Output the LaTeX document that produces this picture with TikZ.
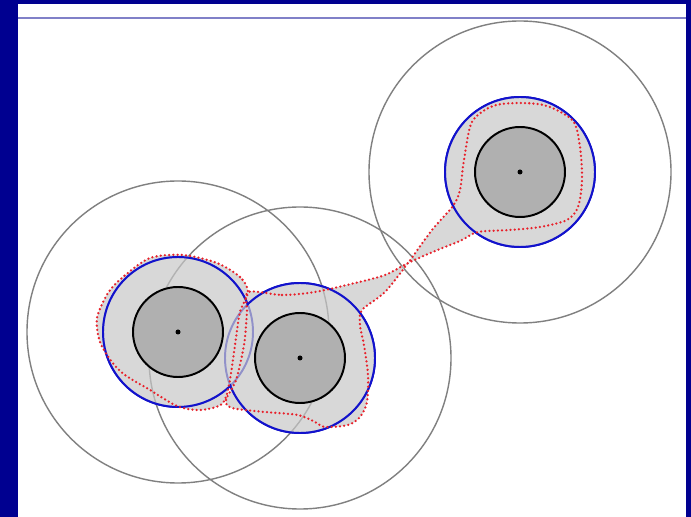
\documentclass[tikz,border=0pt]{standalone}
\usepackage{xcolor}
\definecolor{SlideNavy}{HTML}{000090}
\definecolor{RuleBlue}{HTML}{8080C8}
\definecolor{ShellBlue}{HTML}{1212CC}
\definecolor{HullRed}{HTML}{E8202A}
\definecolor{AreaGray}{HTML}{C8C8C8}
\definecolor{CoreGray}{HTML}{B0B0B0}

\begin{document}
\begin{tikzpicture}[x=0.025cm,y=-0.025cm,
    reach/.style={draw=black!50,line width=1pt},
    shell/.style={draw=ShellBlue,line width=1.4pt},
    core/.style={draw=black,line width=1.4pt,fill=CoreGray},
    hull/.style={draw=HullRed,line width=1.8pt,line cap=round,
      dash pattern=on 0pt off 3pt},
    area/.style={fill=AreaGray}
  ]
  \useasboundingbox (0,0) rectangle (691,517);
  \fill[SlideNavy] (0,0) rectangle (691,517);
  \fill[white] (18,4) rectangle (686,517);
  \draw[RuleBlue,line width=0.8pt] (18,18) -- (686,18);

  \coordinate (p1) at (178,332);
  \coordinate (p2) at (300,358);
  \coordinate (p3) at (520,172);

  \path[save path=\hullA] plot[smooth cycle] coordinates {
    (248,292) (240,277) (217,263) (183,255) (150,258) (123,277) (108,293)
    (97,318) (100,342) (112,362) (125,375) (150,390) (177,406) (200,410)
    (222,404) (229,385) (235,345) (240,312)};
  \path[save path=\hullB] plot[smooth cycle] coordinates {
    (248,292) (282,295) (315,292) (355,283) (385,275) (408,263) (435,251)
    (460,241) (478,232) (510,230) (540,227) (567,220) (578,207) (582,180)
    (580,147) (573,121) (547,106) (520,103) (493,106) (472,122) (464,160)
    (460,190) (453,206) (432,230) (408,263) (385,292) (362,310) (360,325)
    (364,345) (368,375) (367,402) (360,417) (348,425) (325,427) (315,422)
    (298,415) (265,412) (232,408) (226,400) (236,380) (244,345) (247,312)};

  \foreach \p in {p1,p2,p3} \draw[reach] (\p) circle (151);
  \foreach \p in {p1,p2,p3} \draw[shell] (\p) circle (75);
  \begin{scope}[transparency group,opacity=0.7]
    \foreach \p in {p1,p2,p3} \fill[area] (\p) circle (75);
    \fill[area,use path=\hullA];
    \fill[area,use path=\hullB];
  \end{scope}
  \begin{scope}[even odd rule]
    \clip (0,0) rectangle (691,517) (p2) circle (74);
    \draw[shell] (p1) circle (75);
  \end{scope}
  \begin{scope}[even odd rule]
    \clip (0,0) rectangle (691,517) (p1) circle (74);
    \draw[shell] (p2) circle (75);
  \end{scope}
  \draw[shell] (p3) circle (75);
  \draw[hull,use path=\hullA];
  \draw[hull,use path=\hullB];
  \foreach \p in {p1,p2,p3} {
    \draw[core] (\p) circle (45);
    \fill (\p) circle (2.5);
  }
\end{tikzpicture}
\end{document}
